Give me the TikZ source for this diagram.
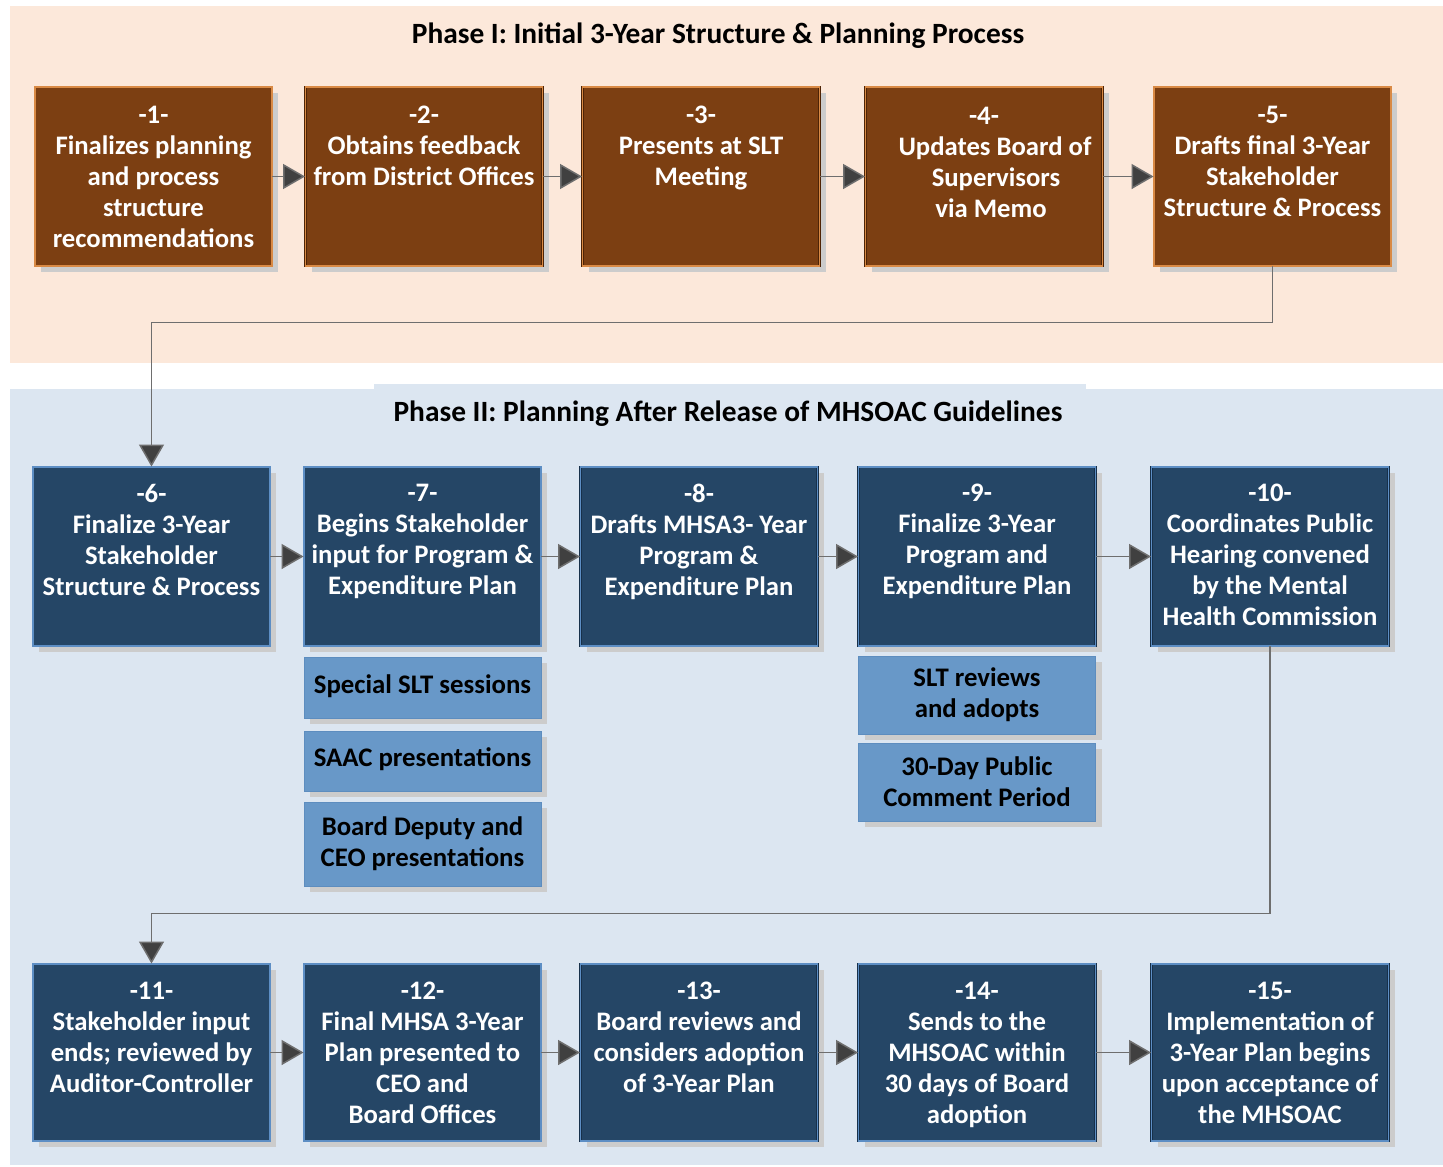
\documentclass[tikz,border=0pt]{standalone}
\usepackage{fontspec}
\setmainfont{Carlito}
\usetikzlibrary{arrows.meta,shadows,calc}
\definecolor{phaseone}{HTML}{FCE8DA}
\definecolor{phasetwo}{HTML}{DCE6F1}
\definecolor{brownfill}{HTML}{7C3F12}
\definecolor{brownedge}{HTML}{4E2406}
\definecolor{browninner}{HTML}{D98A45}
\definecolor{bluefill}{HTML}{254666}
\definecolor{blueedge}{HTML}{17304A}
\definecolor{blueinner}{HTML}{5D8EC4}
\definecolor{lightfill}{HTML}{6898C8}
\definecolor{lightedge}{HTML}{5D8DBF}
\definecolor{shadowgray}{HTML}{CCCCCC}
\definecolor{linegray}{HTML}{6E6E6E}
\definecolor{tipgray}{HTML}{404040}
\newcommand\mkbox[6]{%
  \node[#1] (#2) at (#3,#4) {};
  \node[wtext, anchor=north] (#2t) at ([yshift=-#6]#2.north) {#5};
}
\tikzset{
  boxbase/.style={rectangle, minimum width=237pt, inner sep=0pt,
    drop shadow={shadow xshift=6pt, shadow yshift=-6pt, fill=shadowgray, opacity=1}},
  brownbox/.style={boxbase, minimum height=179pt, fill=brownfill, draw=brownedge,
    double=browninner, double distance=1.1pt, line width=0.9pt},
  bluebox/.style={boxbase, minimum height=179pt, fill=bluefill, draw=blueedge,
    double=blueinner, double distance=1.1pt, line width=0.9pt},
  bluebox3/.style={bluebox, minimum height=177pt},
  lightbox/.style={boxbase, fill=lightfill, draw=lightedge, line width=1pt,
    font=\bfseries\fontsize{26.8}{31}\selectfont, text=black, align=center},
  wtext/.style={inner sep=0pt, text=white, align=center,
    font=\bfseries\fontsize{26.7}{31}\selectfont},
  phasetitle/.style={inner sep=0pt, text=black, font=\bfseries\fontsize{29.4}{33}\selectfont},
  conn/.style={draw=linegray, line width=1.5pt,
    -{Triangle[length=22pt, width=25pt, fill=tipgray]}},
}
\begin{document}
\begin{tikzpicture}[x=1pt, y=-1pt]
\useasboundingbox (0,0) rectangle (1443,1167);
% backgrounds
\fill[phaseone] (10,6) rectangle (1443,363);
\fill[phasetwo] (10,389) rectangle (1443,1165);
\fill[phasetwo] (374,384) rectangle (1086,389);
\node[phasetitle] (title1) at (718,36) {Phase I: Initial 3-Year Structure \& Planning Process};
\node[phasetitle] (title2) at (728,414) {Phase II: Planning After Release of MHSOAC Guidelines};
% row 1
\mkbox{brownbox}{b1}{153.5}{176.5}{-1-\\Finalizes planning\\and process\\structure\\recommendations}{19.5pt}
\mkbox{brownbox}{b2}{424}{176.5}{-2-\\Obtains feedback\\from District Offices}{19.5pt}
\mkbox{brownbox}{b3}{701}{176.5}{-3-\\Presents at SLT\\Meeting}{19.5pt}
\mkbox{brownbox}{b4}{984}{176.5}{-4-\\\hspace*{22pt}Updates Board of\\\hspace*{24pt}Supervisors\\\hspace*{14pt}via Memo}{20.5pt}
\mkbox{brownbox}{b5}{1272.5}{176.5}{-5-\\Drafts final 3-Year\\Stakeholder\\Structure \& Process}{19.5pt}
% row 2
\mkbox{bluebox}{b6}{151.5}{556.5}{-6-\\Finalize 3-Year\\Stakeholder\\Structure \& Process}{17.5pt}
\mkbox{bluebox}{b7}{422.5}{556.5}{-7-\\Begins Stakeholder\\input for Program \&\\Expenditure Plan}{17.5pt}
\mkbox{bluebox}{b8}{699}{556.5}{-8-\\Drafts MHSA3- Year\\Program \&\\Expenditure Plan}{17.5pt}
\mkbox{bluebox}{b9}{977}{556.5}{-9-\\Finalize 3-Year\\Program and\\Expenditure Plan}{17.5pt}
\mkbox{bluebox}{b10}{1270}{556.5}{-10-\\Coordinates Public\\Hearing convened\\by the Mental\\Health Commission}{17.5pt}
% sub boxes
\node[lightbox, minimum height=61pt] (s1) at (422.5,687.5) {\raisebox{7pt}{Special SLT sessions}};
\node[lightbox, minimum height=60pt] (s2) at (422.5,761) {\raisebox{7pt}{SAAC presentations}};
\node[lightbox, minimum height=84pt] (s3) at (422.5,844) {Board Deputy and\\CEO presentations};
\node[lightbox, minimum height=78pt] (s4) at (977,695) {SLT reviews\\and adopts};
\node[lightbox, minimum height=78pt] (s5) at (977,782) {30-Day Public\\Comment Period};
% row 3
\mkbox{bluebox3}{b11}{151.5}{1052.5}{-11-\\Stakeholder input\\ends; reviewed by\\Auditor-Controller}{18pt}
\mkbox{bluebox3}{b12}{422.5}{1052.5}{-12-\\Final MHSA 3-Year\\Plan presented to\\CEO and\\Board Offices}{18pt}
\mkbox{bluebox3}{b13}{699}{1052.5}{-13-\\Board reviews and\\considers adoption\\of 3-Year Plan}{18pt}
\mkbox{bluebox3}{b14}{977}{1052.5}{-14-\\Sends to the\\MHSOAC within\\30 days of Board\\adoption}{18pt}
\mkbox{bluebox3}{b15}{1270}{1052.5}{-15-\\Implementation of\\3-Year Plan begins\\upon acceptance of\\the MHSOAC}{18pt}
% connectors
\draw[conn] (b1) -- (b2);
\draw[conn] (b2) -- (b3);
\draw[conn] (b3) -- (b4);
\draw[conn] (b4) -- (b5);
\draw[conn] (b5.south) -- ++(0,56) -| (b6.north);
\draw[conn] (b6) -- (b7);
\draw[conn] (b7) -- (b8);
\draw[conn] (b8) -- (b9);
\draw[conn] (b9) -- (b10);
\draw[conn] (b10.south) -- ++(0,267) -| (b11.north);
\draw[conn] (b11) -- (b12);
\draw[conn] (b12) -- (b13);
\draw[conn] (b13) -- (b14);
\draw[conn] (b14) -- (b15);
\end{tikzpicture}
\end{document}
